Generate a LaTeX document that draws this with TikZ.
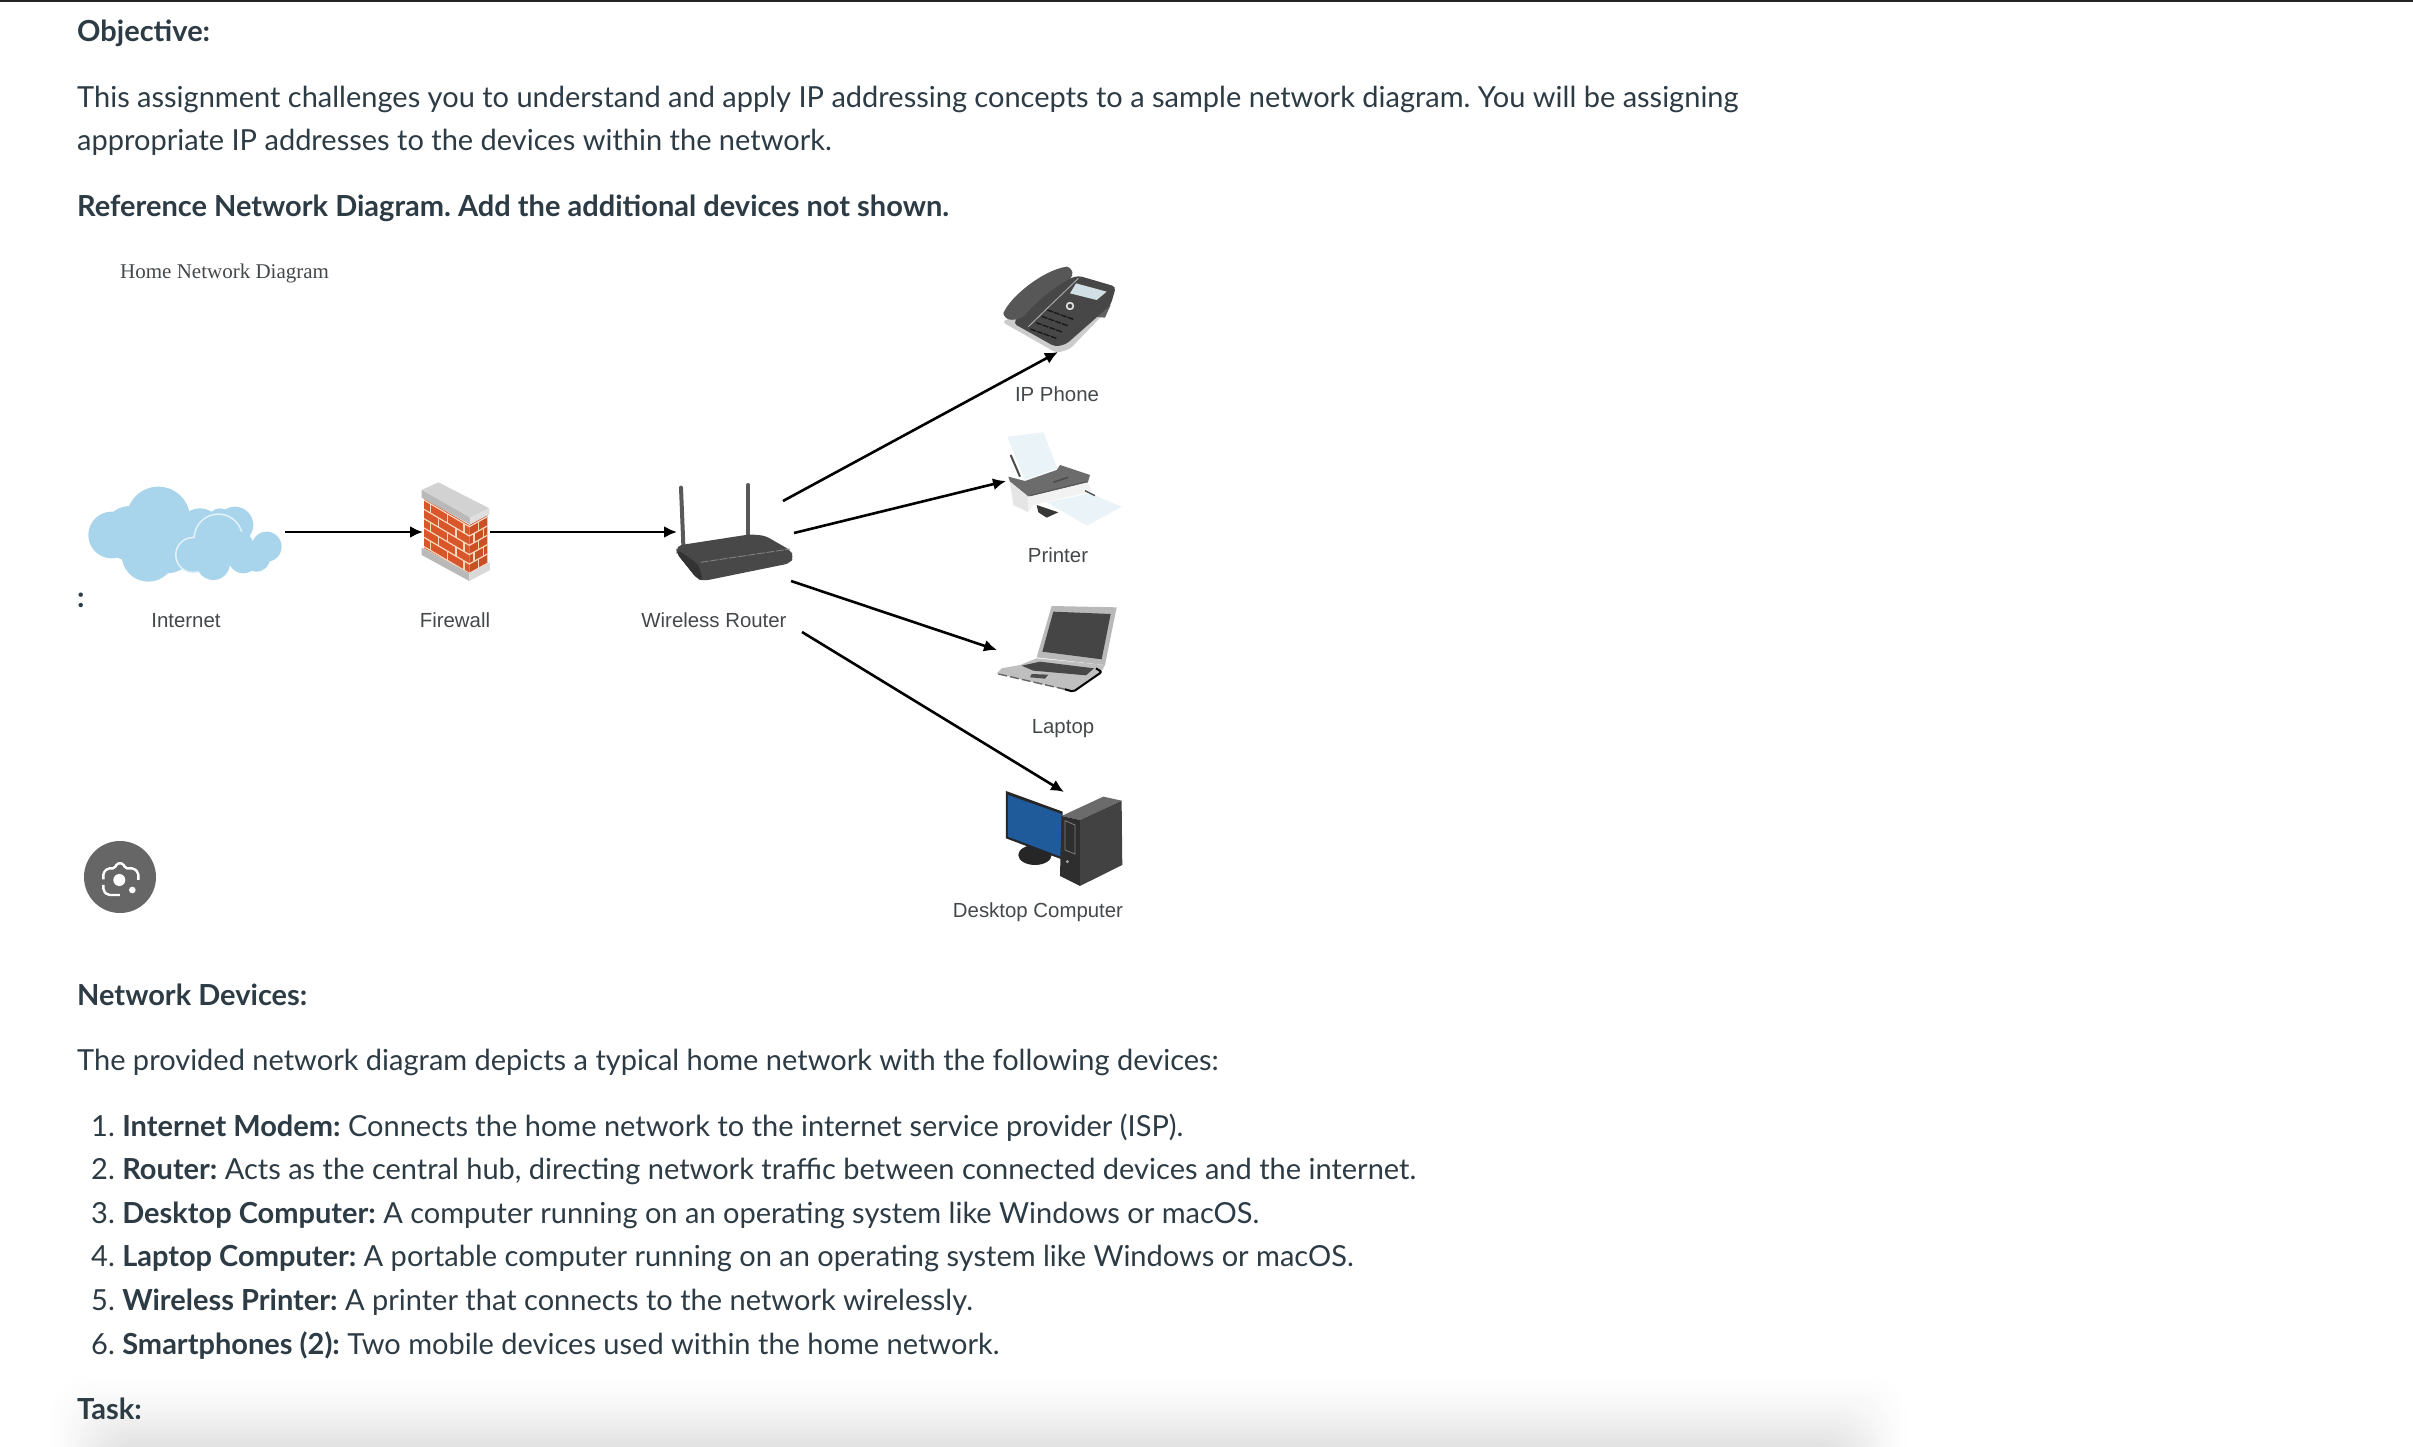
\documentclass[tikz,border=0pt]{standalone}
\usepackage{fontspec}
\setmainfont{Lato}
\newfontfamily\arialfont{Liberation Sans}
\newfontfamily\timesfont{Liberation Serif}
\usetikzlibrary{positioning,arrows.meta}
\definecolor{inktext}{HTML}{2D3B45}
\definecolor{labeltext}{HTML}{45484B}
\definecolor{cloudblue}{HTML}{A9D5EC}
\definecolor{cloudedge}{HTML}{E2F1F8}
\definecolor{brick}{HTML}{D9562B}
\definecolor{brickdark}{HTML}{C94F25}
\definecolor{mortar}{HTML}{F4D8BE}
\definecolor{routerdark}{HTML}{484849}
\definecolor{paperblue}{HTML}{E9F3F8}
\definecolor{screenblue}{HTML}{1F5A9B}
\tikzset{
	bodytext/.style={anchor=base west, inner sep=0pt, text=inktext, font=\fontsize{29}{36}\selectfont},
	headtext/.style={bodytext, font=\fontsize{29}{36}\selectfont\bfseries},
	devlabel/.style={anchor=base, inner sep=0pt, text=labeltext, font=\fontsize{20.4}{24}\selectfont\arialfont},
	iconbox/.style={inner sep=0pt, outer sep=0pt, minimum width=#1},
	link/.style={draw=black, line width=2.6pt, -{Latex[length=13pt,width=12pt]}},
	crop/.style={shift={#1}, scale=0.3333}
}
\begin{document}
\frenchspacing
\begin{tikzpicture}[x=1pt, y=-1pt]
	\path[use as bounding box, fill=white] (0,0) rectangle (2413,1447);
	\fill[black!85] (0,0) rectangle (2413,2);

	% shadow along the bottom edge
	\begin{scope}
		\clip (0,0) rectangle (2413,1447);
		\foreach \i in {0,...,29} {
			\pgfmathsetmacro{\tone}{11.5*(\i/29)^1.7}
			\fill[black!\tone!white, rounded corners=40pt] (44+\i*2.1,1368+\i*2.6) rectangle (1912-\i*2.1,1560);
		}
	\end{scope}

	% page text
	\node (objective) [headtext] at (77,42) {Objective:};
	\node (introone) [bodytext] at (77,108) {This assignment challenges you to understand and apply IP addressing concepts to a sample network diagram. You will be assigning};
	\node (introtwo) [bodytext] at (77,151) {appropriate IP addresses to the devices within the network.};
	\node (refhead) [headtext] at (77,217) {Reference Network Diagram. Add the additional devices not shown.};
	\node (colon) [headtext] at (77,607) {:};
	\node (devhead) [headtext] at (77,1005) {Network Devices:};
	\node (devintro) [bodytext] at (77,1070) {The provided network diagram depicts a typical home network with the following devices:};
	\foreach \n/\ypos/\head/\rest in {
		1/1136/{Internet Modem:}/{Connects the home network to the internet service provider (ISP).},
		2/1179/{Router:}/{Acts as the central hub, directing network traffic between connected devices and the internet.},
		3/1223/{Desktop Computer:}/{A computer running on an operating system like Windows or macOS.},
		4/1266/{Laptop Computer:}/{A portable computer running on an operating system like Windows or macOS.},
		5/1310/{Wireless Printer:}/{A printer that connects to the network wirelessly.},
		6/1354/{Smartphones (2):}/{Two mobile devices used within the home network.}} {
		\node (item\n) [bodytext] at (91,\ypos) {\n. \textbf{\head} \rest};
	}
	\node (task) [headtext] at (77,1419) {Task:};

	% diagram title and device labels
	\node (title) [anchor=base west, inner sep=0pt, text=labeltext, font=\fontsize{21}{24}\selectfont\timesfont] at (120,279) {Home Network Diagram};
	\node (internetlabel) [devlabel] at (186,627) {Internet};
	\node (firewalllabel) [devlabel] at (455,627) {Firewall};
	\node (routerlabel) [devlabel] at (714,627) {Wireless Router};
	\node (phonelabel) [devlabel] at (1057,401) {IP Phone};
	\node (printerlabel) [devlabel] at (1058,562) {Printer};
	\node (laptoplabel) [devlabel] at (1063,733) {Laptop};
	\node (desktoplabel) [devlabel] at (1038,917) {Desktop Computer};

	% cloud
	\begin{scope}[crop={(80,470)}]
		\foreach \cx/\cy/\r in {235/145/95,95/195/70,150/190/82,205/255/80,465/165/55,360/180/65,260/220/90,420/150/35} {
			\fill[cloudblue] (\cx,\cy) circle (\r);
		}
		\foreach \cx/\cy/\r in {415/205/70,340/255/50} {
			\fill[cloudedge] (\cx,\cy) circle (\r+5);
		}
		\foreach \cx/\cy/\r in {415/205/70,340/255/50,400/280/50,490/265/45,560/230/45,530/265/40,480/225/40} {
			\fill[cloudblue] (\cx,\cy) circle (\r);
		}
	\end{scope}

	% firewall
	\begin{scope}[crop={(410,475)}]
		\fill[brick] (42,70) -- (178,150) -- (178,295) -- (42,220) -- cycle;
		\fill[brickdark] (178,150) -- (232,120) -- (232,268) -- (178,295) -- cycle;
		\foreach \k in {0,...,5} {
			\draw[mortar, line width=1.2pt] (42,{75+\k*28}) -- (178,{155+\k*28}) -- (232,{125+\k*28});
		}
		\foreach \k in {0,2,4} {
			\foreach \x in {62,112,162} {
				\draw[mortar, line width=1.2pt] (\x,{75+\k*28+(\x-42)*0.588}) -- ++(0,28);
			}
			\draw[mortar, line width=1.2pt] (205,{140+\k*28}) -- ++(0,28);
		}
		\foreach \k in {1,3} {
			\foreach \x in {85,138} {
				\draw[mortar, line width=1.2pt] (\x,{75+\k*28+(\x-42)*0.588}) -- ++(0,28);
			}
			\draw[mortar, line width=1.2pt] (192,{147+\k*28}) -- ++(0,28);
			\draw[mortar, line width=1.2pt] (220,{132+\k*28}) -- ++(0,28);
		}
		\fill[gray!35] (35,45) -- (85,22) -- (238,100) -- (180,128) -- cycle;
		\fill[gray!55] (35,45) -- (180,128) -- (180,148) -- (35,68) -- cycle;
		\fill[gray!25] (180,128) -- (238,100) -- (238,118) -- (180,148) -- cycle;
		\fill[gray!55] (35,218) -- (178,295) -- (178,318) -- (35,240) -- cycle;
		\fill[gray!30] (178,295) -- (240,262) -- (240,285) -- (178,318) -- cycle;
	\end{scope}

	% router
	\begin{scope}[crop={(670,475)}]
		\draw[black!65, line width=4pt, line cap=round] (33,38) -- (40,210);
		\draw[black!65, line width=4pt, line cap=round] (235,30) -- (235,185);
		\fill[routerdark, rounded corners=5pt] (20,212) -- (240,178) -- (285,182) -- (360,225) -- (372,245) -- (360,265) -- (100,318) -- (80,310) -- (20,235) -- cycle;
		\fill[black!80, rounded corners=5pt] (20,222) -- (85,268) -- (100,318) -- (80,310) -- (20,235) -- cycle;
		\draw[gray, line width=0.9pt, dash pattern=on 8pt off 1.5pt] (92,262) -- (360,222);
	\end{scope}

	% phone
	\begin{scope}[crop={(990,255)}]
		\fill[gray!40, rounded corners=4pt] (35,200) -- (200,294) -- (240,282) -- (362,155) -- (300,100) -- cycle;
		\fill[black!62] (335,148) -- (362,150) -- (345,188) -- (310,185) -- cycle;
		\fill[black!72, rounded corners=4pt] (265,62) -- (378,95) -- (362,150) -- (228,268) -- (195,275) -- (70,205) -- (150,100) -- cycle;
		\draw[gray!70, line width=1pt] (115,215) -- (265,70);
		\fill[black!66] (40,175) .. controls (60,125) and (160,45) .. (230,35) .. controls (250,40) and (252,60) .. (240,72) .. controls (190,95) and (135,145) .. (105,180) .. controls (80,200) and (45,200) .. (40,175) -- cycle;
		\fill[cloudblue!65!gray!45] (258,85) -- (350,110) -- (320,135) -- (240,115) -- cycle;
		\draw[gray!20, line width=1.6pt] (240,153) circle (10);
		\foreach \k in {0,1,2,3} {
			\draw[black!90, line width=1.4pt, dash pattern=on 6pt off 1.2pt] ({172-\k*17},{165+\k*19}) -- ++(78,28);
		}
	\end{scope}

	% printer
	\begin{scope}[crop={(1000,425)}]
		\fill[paperblue] (22,35) -- (130,22) -- (172,130) -- (75,165) -- cycle;
		\draw[black!70, line width=2pt] (32,90) -- (60,155);
		\fill[gray!85!black] (25,155) -- (75,168) -- (170,135) -- (180,120) -- (270,150) -- (262,178) -- (85,215) -- (30,170) -- cycle;
		\fill[black!10] (30,170) -- (85,215) -- (85,262) -- (40,240) -- cycle;
		\fill[black!5] (85,215) -- (262,172) -- (278,198) -- (100,240) -- (85,262) -- cycle;
		\draw[black!65, line width=1.2pt] (90,212) -- (260,170);
		\draw[black!70, line width=1.6pt] (160,172) -- (205,157);
		\fill[paperblue] (140,232) -- (270,205) -- (365,245) -- (262,302) -- cycle;
		\fill[black!78] (110,240) -- (175,262) -- (140,278) -- (115,262) -- cycle;
		\draw[black!70, line width=1.4pt] (255,197) -- (285,212);
	\end{scope}

	% laptop
	\begin{scope}[crop={(990,600)}]
		\fill[gray!55] (185,18) -- (380,22) -- (345,195) -- (140,172) -- cycle;
		\fill[black!73] (190,35) -- (362,42) -- (335,178) -- (157,155) -- cycle;
		\fill[gray!50] (140,175) -- (345,195) -- (335,215) -- (250,275) -- (20,220) -- (35,205) -- (90,195) -- cycle;
		\fill[black!72] (95,197) -- (150,185) -- (312,205) -- (288,226) -- (130,212) -- cycle;
		\fill[black!70] (125,222) -- (175,224) -- (165,236) -- (120,232) -- cycle;
		\draw[black, line width=2pt, rounded corners=2pt] (318,205) -- (335,216) -- (250,275) -- (225,268);
		\draw[black!60, line width=1.4pt, dash pattern=on 9pt off 3pt] (25,222) -- (225,268);
	\end{scope}

	% desktop
	\begin{scope}[crop={(760,580)}]
		\fill[black!85] (825,825) ellipse (50 and 30);
		\fill[black!85] (738,633) -- (908,695) -- (905,838) -- (738,775) -- cycle;
		\fill[screenblue] (744,645) -- (905,702) -- (902,830) -- (744,770) -- cycle;
		\fill[black!58] (905,708) -- (1030,650) -- (1085,662) -- (960,720) -- cycle;
		\fill[black!74] (960,720) -- (1085,662) -- (1087,855) -- (960,918) -- cycle;
		\fill[black!82] (905,708) -- (960,720) -- (960,918) -- (900,888) -- cycle;
		\draw[gray, line width=0.8pt] (915,722) -- (915,810) -- (945,822) -- (945,735) -- cycle;
		\fill[gray!70] (922,845) circle (5);
	\end{scope}

	% lens button
	\node (lens) [circle, fill=black!60, minimum size=72pt, inner sep=0pt] at (120,877) {};
	\begin{scope}[crop={(60,820)}]
		\draw[white, line width=2.4pt, rounded corners=2pt] (130,178) -- (130,158) -- (143,145) -- (165,145) -- (170,130) -- (190,130) -- (195,145) -- (222,145) -- (235,158) -- (235,180);
		\draw[white, line width=2.4pt, rounded corners=2pt] (130,195) -- (130,212) -- (143,225) -- (180,225);
		\fill[white] (178,180) circle (18);
		\fill[white] (217,210) circle (10);
	\end{scope}

	% boxes the arrows run between
	\node (internet) [iconbox=198pt] at (186,532) {};
	\node (firewall) [iconbox=67pt] at (456.5,532) {};
	\node (router) [iconbox=120pt] at (737,532) {};
	\node (phone) [iconbox=114pt, minimum height=88pt] at (1058,308) {};
	\node (printer) [iconbox=116pt] at (1064,481) {};
	\node (laptop) [iconbox=120pt] at (1057,650) {};
	\node (desktop) [iconbox=118pt, minimum height=96pt] at (1064,840) {};
	\coordinate (tophone) at (783,501);
	\coordinate (toprinter) at (794,533);
	\coordinate (tolaptop) at (791,581);
	\coordinate (todesktop) at (802,632);

	\draw[link] (internet.east) -- (firewall.west);
	\draw[link] (firewall.east) -- (router.west);
	\draw[link] (tophone) -- (phone.south);
	\draw[link] (toprinter) -- (printer.west);
	\draw[link] (tolaptop) -- (laptop.west);
	\draw[link] (todesktop) -- (desktop.north);
\end{tikzpicture}
\end{document}
